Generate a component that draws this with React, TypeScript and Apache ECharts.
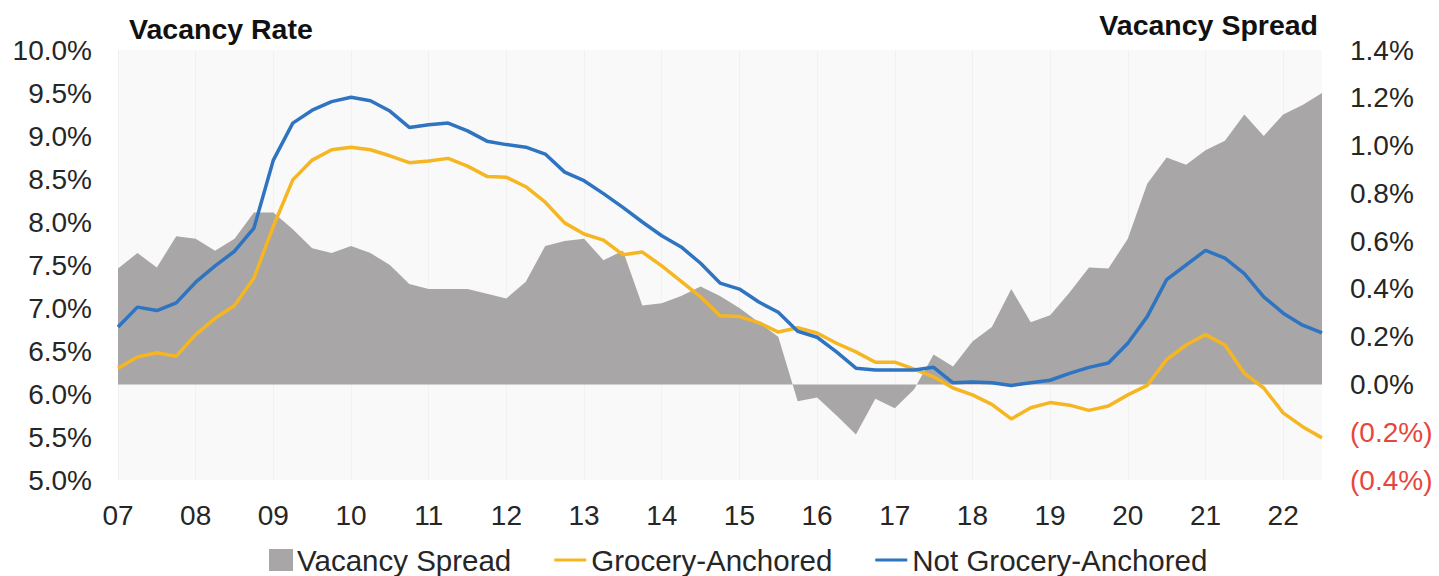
import React, { useEffect, useRef } from 'react';
import * as echarts from 'echarts';

const yearLabels = ['07', '08', '09', '10', '11', '12', '13', '14', '15', '16', '17', '18', '19', '20', '21', '22'];
const quarterNames = ['Q1', 'Q2', 'Q3', 'Q4'];
const categories = yearLabels.flatMap((y) => quarterNames.map((q) => `${y} ${q}`)).slice(0, 63);

const groceryAnchored = [
  6.30, 6.43, 6.48, 6.44, 6.69, 6.88, 7.03, 7.35, 7.95, 8.49,
  8.72, 8.84, 8.87, 8.84, 8.77, 8.69, 8.71, 8.74, 8.65, 8.53,
  8.52, 8.41, 8.23, 7.99, 7.86, 7.79, 7.62, 7.65, 7.49, 7.31,
  7.13, 6.91, 6.90, 6.83, 6.72, 6.77, 6.71, 6.59, 6.49, 6.37,
  6.37, 6.29, 6.20, 6.07, 5.99, 5.88, 5.71, 5.84, 5.90, 5.87,
  5.81, 5.86, 5.99, 6.10, 6.40, 6.57, 6.69, 6.57, 6.24, 6.07,
  5.78, 5.62, 5.49,
];

const notGroceryAnchored = [
  6.78, 7.01, 6.97, 7.06, 7.30, 7.49, 7.66, 7.93, 8.72, 9.15,
  9.30, 9.40, 9.45, 9.41, 9.29, 9.10, 9.13, 9.15, 9.06, 8.94,
  8.90, 8.87, 8.79, 8.58, 8.48, 8.33, 8.17, 8.00, 7.84, 7.71,
  7.52, 7.29, 7.22, 7.07, 6.95, 6.73, 6.66, 6.49, 6.30, 6.28,
  6.28, 6.28, 6.31, 6.13, 6.14, 6.13, 6.10, 6.13, 6.16, 6.24,
  6.31, 6.36, 6.59, 6.90, 7.33, 7.50, 7.67, 7.58, 7.40, 7.13,
  6.94, 6.80, 6.71,
];

const vacancySpread = [
  0.485, 0.55, 0.49, 0.62, 0.61, 0.56, 0.61, 0.72, 0.72, 0.65,
  0.57, 0.55, 0.58, 0.55, 0.50, 0.42, 0.40, 0.40, 0.40, 0.38,
  0.36, 0.43, 0.58, 0.60, 0.61, 0.52, 0.56, 0.33, 0.34, 0.37,
  0.41, 0.37, 0.32, 0.26, 0.20, -0.07, -0.055, -0.13, -0.21, -0.06,
  -0.10, -0.02, 0.125, 0.075, 0.18, 0.24, 0.40, 0.26, 0.29, 0.385,
  0.49, 0.485, 0.61, 0.84, 0.95, 0.92, 0.98, 1.02, 1.13, 1.04,
  1.13, 1.17, 1.22,
];

const FONT = "'Liberation Sans', Arial, sans-serif";
const TEXT = '#262626';
const GREY = '#a8a6a6';
const YELLOW = '#f5b622';
const BLUE = '#2f74c1';

export default function App() {
  const ref = useRef<HTMLDivElement>(null);

  useEffect(() => {
    document.body.style.margin = '0';
    if (!ref.current) return;
    const chart = echarts.init(ref.current, undefined, { renderer: 'svg' });
    chart.setOption({
      animation: false,
      backgroundColor: '#ffffff',
      textStyle: { fontFamily: FONT },
      title: [
        {
          text: 'Vacancy Rate',
          left: 124,
          top: 9,
          textStyle: { fontFamily: FONT, fontSize: 28.5, fontWeight: 'bold', color: '#111' },
        },
        {
          text: 'Vacancy Spread',
          right: 116,
          top: 5,
          textStyle: { fontFamily: FONT, fontSize: 28.5, fontWeight: 'bold', color: '#111' },
        },
      ],
      grid: {
        left: 118,
        right: 117,
        top: 50,
        bottom: 96,
        show: true,
        backgroundColor: '#f9f9f9',
        borderWidth: 0,
      },
      legend: {
        left: 264,
        top: 540,
        itemWidth: 32,
        itemHeight: 22,
        itemGap: 43,
        textStyle: { fontFamily: FONT, fontSize: 29.5, color: TEXT },
        data: [
          {
            name: 'Vacancy Spread',
            icon: 'path://M0,0 H24 V22 H0 Z',
            itemStyle: { color: GREY },
            textStyle: { padding: [0, 0, 0, -5] },
          },
          { name: 'Grocery-Anchored', icon: 'path://M0,0 H32 V3 H0 Z', itemStyle: { color: YELLOW } },
          { name: 'Not Grocery-Anchored', icon: 'path://M0,0 H32 V3 H0 Z', itemStyle: { color: BLUE } },
        ],
      },
      xAxis: {
        type: 'category',
        data: categories,
        boundaryGap: false,
        axisLine: { show: false },
        axisTick: { show: false },
        axisLabel: {
          interval: 3,
          margin: 21,
          fontSize: 28,
          fontFamily: FONT,
          color: TEXT,
          formatter: (v: string) => v.split(' ')[0],
        },
        splitLine: { show: true, interval: 3, lineStyle: { color: '#f1f1f1', width: 1 } },
      },
      yAxis: [
        {
          type: 'value',
          min: 5,
          max: 10,
          interval: 0.5,
          position: 'left',
          axisLine: { show: false },
          axisTick: { show: false },
          splitLine: { show: false },
          axisLabel: {
            margin: 26,
            fontSize: 28,
            fontFamily: FONT,
            color: TEXT,
            formatter: (v: number) => `${v.toFixed(1)}%`,
          },
        },
        {
          type: 'value',
          min: -0.4,
          max: 1.4,
          interval: 0.2,
          position: 'right',
          axisLine: { show: false },
          axisTick: { show: false },
          splitLine: { show: false },
          axisLabel: {
            margin: 28,
            fontSize: 28,
            fontFamily: FONT,
            color: TEXT,
            formatter: (v: number) => {
              const r = Math.round(v * 10) / 10;
              if (r < 0) return `{neg|(${Math.abs(r).toFixed(1)}%)}`;
              return `${r.toFixed(1)}%`;
            },
            rich: {
              neg: { color: '#e5473c', fontSize: 28, fontFamily: FONT },
            },
          },
        },
      ],
      series: [
        {
          name: 'Vacancy Spread',
          type: 'line',
          yAxisIndex: 1,
          data: vacancySpread,
          showSymbol: false,
          symbol: 'none',
          lineStyle: { width: 0, color: GREY },
          itemStyle: { color: GREY },
          areaStyle: { color: GREY, opacity: 1 },
          z: 1,
        },
        {
          name: 'Grocery-Anchored',
          type: 'line',
          yAxisIndex: 0,
          data: groceryAnchored,
          showSymbol: false,
          symbol: 'none',
          lineStyle: { width: 3.5, color: YELLOW },
          itemStyle: { color: YELLOW },
          z: 2,
        },
        {
          name: 'Not Grocery-Anchored',
          type: 'line',
          yAxisIndex: 0,
          data: notGroceryAnchored,
          showSymbol: false,
          symbol: 'none',
          lineStyle: { width: 3.5, color: BLUE },
          itemStyle: { color: BLUE },
          z: 3,
        },
      ],
    });
    return () => chart.dispose();
  }, []);

  return <div ref={ref} style={{ width: 1439, height: 576 }} />;
}
